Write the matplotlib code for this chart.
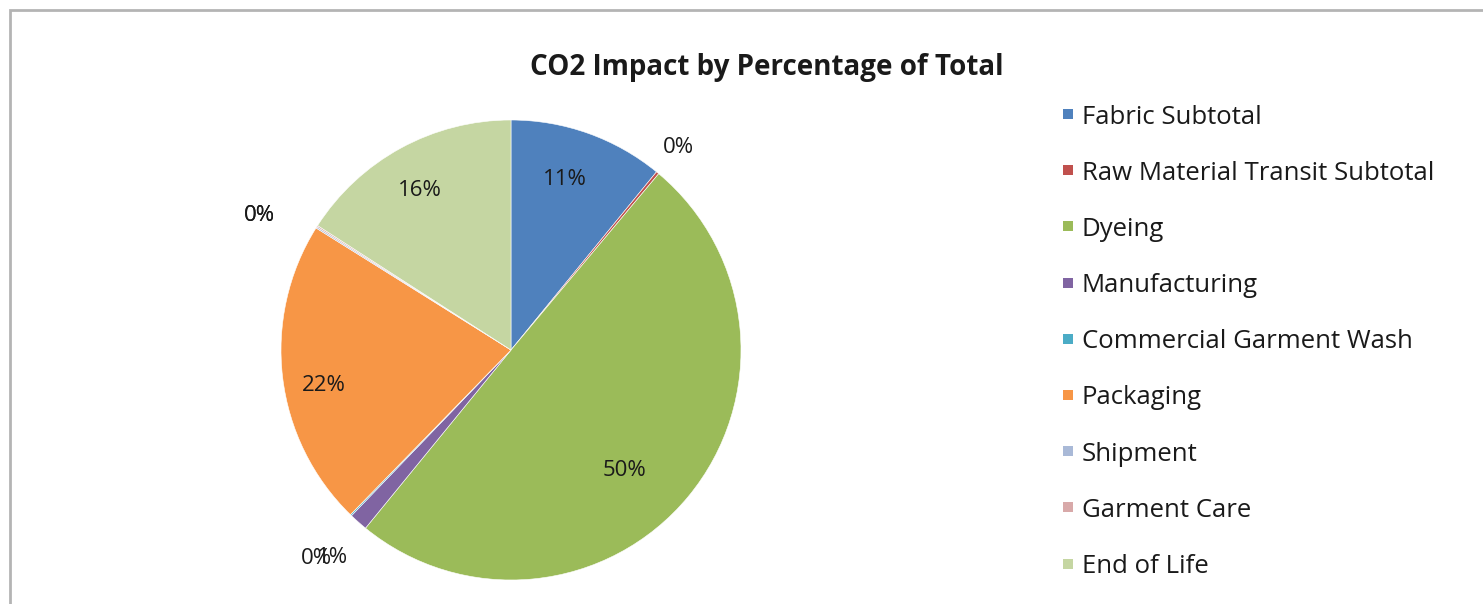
import numpy as np
import matplotlib
matplotlib.use('Agg')
import matplotlib.pyplot as plt
from matplotlib.patches import Rectangle

plt.rcParams['font.family'] = ['Open Sans', 'DejaVu Sans']

categories = ['Fabric Subtotal', 'Raw Material Transit Subtotal', 'Dyeing',
              'Manufacturing', 'Commercial Garment Wash', 'Packaging',
              'Shipment', 'Garment Care', 'End of Life']
shares = [10.9, 0.2, 49.8, 1.3, 0.1, 21.6, 0.1, 0.1, 15.9]
colors = ['#4F81BD', '#C0504D', '#9BBB59', '#8064A2', '#4BACC6', '#F79646',
          '#A9B9D7', '#D8A9A9', '#C5D6A2']

# label placement (distance from centre in radii, angle nudge in degrees)
label_dist = [0.78, 1.14, 0.72, 1.19, 1.24, 0.83, 1.24, 1.24, 0.80]
label_nudge = [2, 0, -7, 0.8, 1.2, 4, 4, 4.36, 1]

W, H = 1483, 604
fig = plt.figure(figsize=(W / 100, H / 100), dpi=100, facecolor='white')

# chart frame (runs off the right/bottom edge like the screenshot)
fig.add_artist(Rectangle((10 / W, -0.05), 1.2, (H - 10) / H + 0.05,
                         transform=fig.transFigure, fill=False,
                         edgecolor='#B4B4B4', linewidth=2))

cx, cy, r = 511, 350, 230
ax = fig.add_axes([(cx - r) / W, (H - cy - r) / H, 2 * r / W, 2 * r / H])
wedges, _ = ax.pie(shares, colors=colors, startangle=90, counterclock=False,
                   radius=1, wedgeprops=dict(edgecolor='white', linewidth=0.4))
ax.set_xlim(-1, 1)
ax.set_ylim(-1, 1)
ax.set_aspect('equal')
ax.axis('off')

for w, val, d, nd in zip(wedges, shares, label_dist, label_nudge):
    ang = np.deg2rad((w.theta1 + w.theta2) / 2 + nd)
    ax.text(d * np.cos(ang), d * np.sin(ang), f'{val:.0f}%',
            ha='center', va='center', fontsize=16, color='#1a1a1a',
            clip_on=False)

fig.text(767 / W, 1 - 67 / H, 'CO2 Impact by Percentage of Total',
         ha='center', va='center', fontsize=20, fontweight='bold',
         color='#1a1a1a')

# legend
lx, ly0, step = 1068, 117, 56.2
for i, (name, c) in enumerate(zip(categories, colors)):
    y = 1 - (ly0 + i * step) / H
    fig.add_artist(Rectangle(((lx - 5) / W, y - 2 / H), 10 / W, 10 / H,
                             transform=fig.transFigure, facecolor=c,
                             edgecolor='none'))
    fig.text((lx + 14) / W, y, name, ha='left', va='center', fontsize=18.5,
             color='#1a1a1a')

fig.savefig('out.png', dpi=100, facecolor='white')
